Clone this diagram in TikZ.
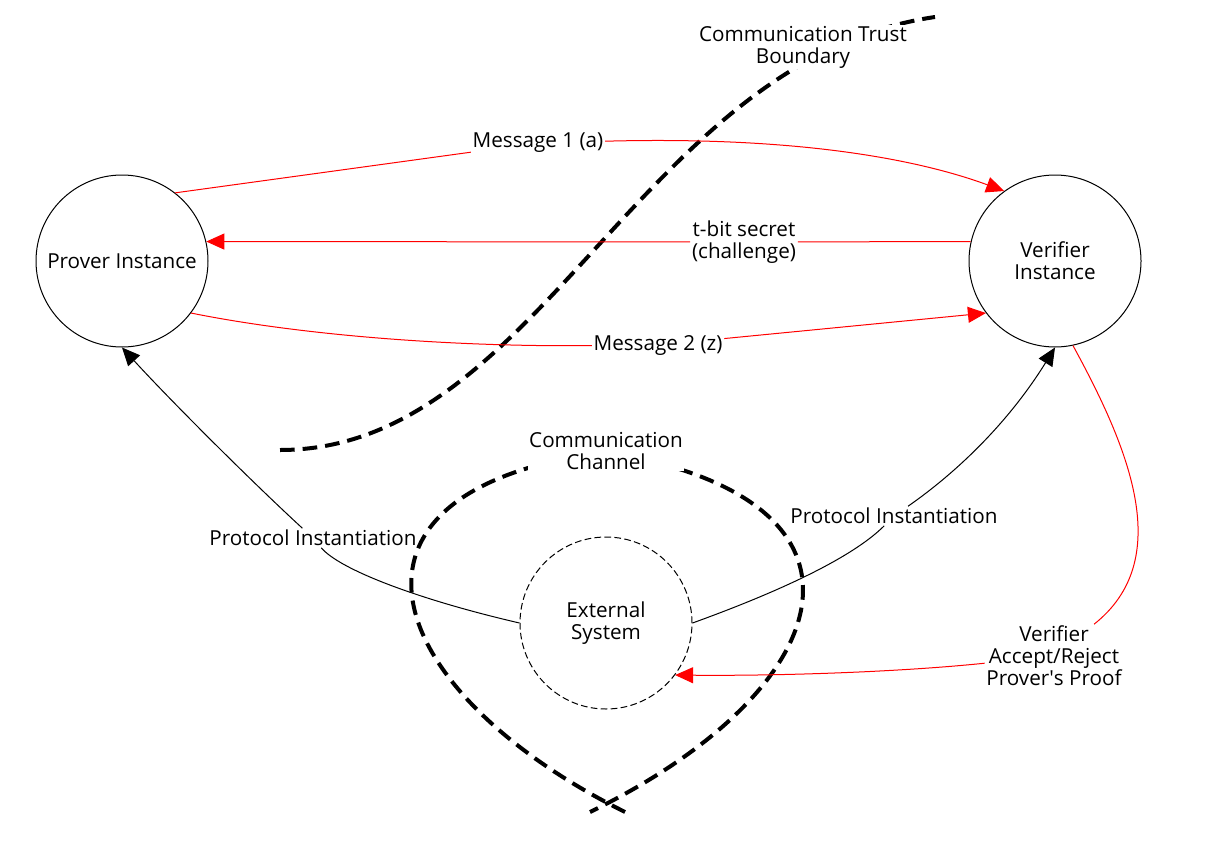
\documentclass[tikz,border=0pt]{standalone}
\usepackage{fontspec}
\setmainfont{Open Sans}
\usetikzlibrary{arrows.meta}

\tikzset{every picture/.style={line width=0.75pt}}
\tikzset{
  party/.style={draw, circle, minimum size=129pt, inner sep=0pt, align=center},
  extsys/.style={party, dash pattern=on 5pt off 2.5pt},
  edgelabel/.style={inner sep=1pt, align=center},
  boundlabel/.style={edgelabel, fill=white},
  boundary/.style={line width=3pt, dash pattern=on 11pt off 6pt},
  msgarrow/.style={draw=red, -{Triangle[length=13.5pt,width=12pt]}},
  instarrow/.style={draw=black, -{Triangle[length=13.5pt,width=12pt]}}
}

\begin{document}
\begin{tikzpicture}[x=0.75pt,y=0.75pt,yscale=-1,xscale=1,font=\fontsize{15.5}{16.5}\selectfont]
\useasboundingbox (0,0) rectangle (1212,845);

%Trust boundary
\draw [boundary] (280,450) .. controls (540,450) and (640,60) .. (935,17) ;
%Channel boundary
\draw [boundary] (625,812) .. controls (380,690) and (310,490) .. (606,452) .. controls (900,500) and (840,690) .. (590,812) ;

% Parties
\node [party] (prover) at (122,261) {Prover Instance};
\node [party] (verifier) at (1055,261) {Verifier\\Instance};
\node [extsys] (ext) at (606,623) {External\\System};

% Text Node
\node [boundlabel] (trust) at (803,47) {Communication Trust\\Boundary};
% Text Node
\node [boundlabel] (channel) at (606,451) {Communication\\Channel};
% Text Node
\node [edgelabel] (msg1) at (538,143) {Message 1 (a)};
% Text Node
\node [edgelabel] (secret) at (744,242) {t-bit secret\\(challenge)};
% Text Node
\node [edgelabel] (msg2) at (658,345) {Message 2 (z)};
% Text Node
\node [edgelabel] (protoL) at (313,538) {Protocol Instantiation};
% Text Node
\node [edgelabel] (protoR) at (894,516) {Protocol Instantiation};
% Text Node
\node [edgelabel] (accept) at (1054,656) {Verifier\\Accept/Reject\\Prover\textquotesingle s Proof};

%Messages
\draw [msgarrow] (prover.52) -- (msg1) .. controls (800,136) and (920,160) .. (verifier.126) ;
\draw [msgarrow] (verifier.167) -- (secret) -- (prover.13) ;
\draw [msgarrow] (prover.-37) .. controls (300,335) and (450,347) .. (msg2) -- (verifier.217) ;
\draw [msgarrow] (verifier.-78) .. controls (1130,450) and (1175,560) .. (accept) .. controls (900,672) and (780,676) .. (ext.-37) ;

%Instantiation
\draw [instarrow] (ext.west) .. controls (420,600) and (340,570) .. (protoL) .. controls (250,480) and (170,400) .. (prover.south) ;
\draw [instarrow] (ext.east) .. controls (770,595) and (850,560) .. (protoR) .. controls (960,470) and (1010,420) .. (verifier.south) ;

\end{tikzpicture}
\end{document}
